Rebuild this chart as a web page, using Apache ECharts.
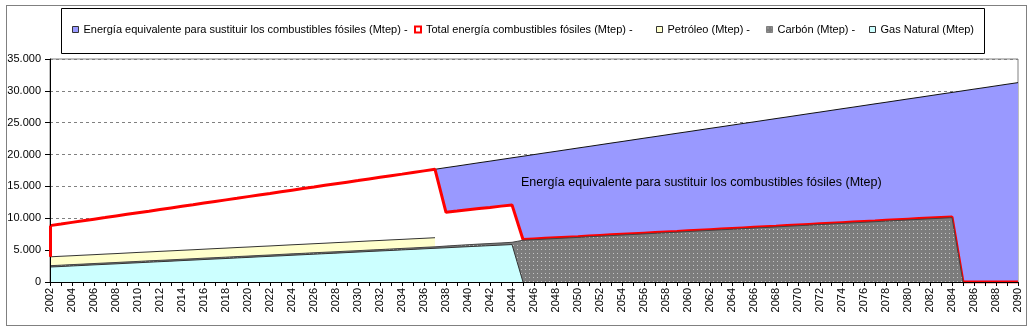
<!DOCTYPE html>
<html><head><meta charset="utf-8">
<script src="https://cdn.jsdelivr.net/npm/echarts@6/dist/echarts.min.js"></script>
<style>html,body{margin:0;padding:0;background:#fff}#c{width:1033px;height:332px}</style>
</head><body><div id="c"></div>
<script>
const years = [
'2002','2003','2004','2005','2006','2007','2008','2009','2010','2011',
'2012','2013','2014','2015','2016','2017','2018','2019','2020','2021',
'2022','2023','2024','2025','2026','2027','2028','2029','2030','2031',
'2032','2033','2034','2035','2036','2037','2038','2039','2040','2041',
'2042','2043','2044','2045','2046','2047','2048','2049','2050','2051',
'2052','2053','2054','2055','2056','2057','2058','2059','2060','2061',
'2062','2063','2064','2065','2066','2067','2068','2069','2070','2071',
'2072','2073','2074','2075','2076','2077','2078','2079','2080','2081',
'2082','2083','2084','2085','2086','2087','2088','2089','2090'];

// Upper edge of each area (Mtep)
// Energía equivalente: 2037-2090
const energiaEquivalente = [
17690,17950,18200,18460,18720,18970,19230,19490,19740,20000,
20260,20510,20770,21030,21280,21540,21800,22050,22310,22570,
22820,23080,23340,23590,23850,24110,24360,24620,24880,25130,
25390,25650,25900,26160,26420,26670,26930,27190,27440,27700,
27960,28210,28470,28730,28980,29240,29500,29750,30010,30270,
30520,30780,31040,31290];
// Total energía combustibles fósiles: 2002-2090
const totalFosiles = [
8850,9100,9360,9610,9860,10110,10370,10620,10870,11120,
11380,11630,11880,12130,12390,12640,12890,13140,13400,13650,
13900,14160,14410,14660,14910,15170,15420,15670,15920,16180,
16430,16680,16930,17190,17440,17690,
10940,11130,11330,11520,11710,11910,12100,
6670,6760,6850,6940,7030,7120,7220,7310,7400,7490,
7580,7670,7760,7850,7940,8040,8130,8220,8310,8400,
8490,8580,8670,8760,8860,8950,9040,9130,9220,9310,
9400,9490,9580,9680,9770,9860,9950,10040,10130,10220,
0,0,0,0,0,0];
// Petróleo: 2002-2037
const petroleo = [
3950,4040,4120,4210,4290,4380,4460,4550,4640,4720,
4810,4890,4980,5060,5150,5240,5320,5410,5490,5580,
5660,5750,5840,5920,6010,6090,6180,6260,6350,6440,
6520,6610,6690,6780,6860,6950];
// Carbón: 2002-2085
const carbon = [
2560,2640,2730,2810,2900,2980,3060,3150,3230,3320,
3400,3480,3570,3650,3740,3820,3900,3990,4070,4160,
4240,4330,4420,4500,4590,4670,4750,4840,4920,5010,
5090,5180,5270,5350,5440,5520,5640,5750,5850,5950,
6040,6130,6230,
6550,6640,6730,6820,6910,7000,7100,7190,7280,7370,
7460,7550,7640,7730,7820,7920,8010,8100,8190,8280,
8370,8460,8550,8640,8740,8830,8920,9010,9100,9190,
9280,9370,9460,9560,9650,9740,9830,9920,10010,10100,
0];
// Gas Natural: 2002-2045
const gasNatural = [
2350,2430,2520,2600,2690,2770,2850,2940,3020,3110,
3190,3270,3360,3440,3530,3610,3690,3780,3860,3950,
4030,4110,4200,4280,4370,4450,4530,4620,4700,4790,
4870,4950,5040,5120,5210,5290,5370,5460,5540,5630,
5710,5790,5880,
0];

const seriesNames = [
 'Energía equivalente para sustituir los combustibles fósiles (Mtep) -',
 'Total energía combustibles fósiles (Mtep) -',
 'Petróleo (Mtep) -',
 'Carbón (Mtep) -',
 'Gas Natural (Mtep)'];
const annotation = 'Energía equivalente para sustituir los combustibles fósiles (Mtep)';

const FONT = 'Arial, "Liberation Sans", sans-serif';

function pairs(arr, startYear){
  const s = years.indexOf(startYear);
  return arr.map((v,i)=>[years[s+i], v]);
}

const pc = document.createElement('canvas'); pc.width = 4; pc.height = 4;
const g = pc.getContext('2d');
g.fillStyle = '#7c7c7c'; g.fillRect(0,0,4,4);
g.fillStyle = '#c4c4c4'; g.fillRect(1,1,1,1);
const carbonPattern = {image: pc, repeat: 'repeat'};

function area(name, data, fill, lineColor, lineWidth, z, extra){
  return Object.assign({
    name, type:'line', data, showSymbol:false, symbol:'none', z:z,
    lineStyle:{color:lineColor, width:lineWidth},
    areaStyle:{color:fill, opacity:1},
    itemStyle:{color:fill},
    emphasis:{disabled:true}, silent:true
  }, extra||{});
}

const legendDefs = [
 {x:72, name:seriesNames[0], style:{color:'#9999FF', borderColor:'#333', borderWidth:1}},
 {x:414, name:seriesNames[1], style:{color:'#FFFFFF', borderColor:'#FF0000', borderWidth:2}},
 {x:656, name:seriesNames[2], style:{color:'#FFFFCC', borderColor:'#333', borderWidth:1}},
 {x:766, name:seriesNames[3], style:{color:carbonPattern, borderColor:'#808080', borderWidth:1}},
 {x:869, name:seriesNames[4], style:{color:'#CCFFFF', borderColor:'#333', borderWidth:1}}
];

const chart = echarts.init(document.getElementById('c'));
chart.setOption({
  animation:false,
  backgroundColor:'#fff',
  textStyle:{fontFamily:FONT},
  grid:{left:50, right:15, top:59, bottom:50, show:true, z:0, borderColor:'#808080', borderWidth:1, backgroundColor:'transparent'},
  legend: legendDefs.map(d=>({
    left:d.x, top:24, padding:0, itemWidth:6, itemHeight:6, icon:'rect',
    selectedMode:false, textStyle:{fontFamily:FONT, fontSize:11, color:'#000'},
    data:[{name:d.name, itemStyle:d.style}]
  })),
  xAxis:{
    type:'category', data:years, boundaryGap:false, z:20,
    axisLine:{lineStyle:{color:'#000', width:1}},
    axisTick:{interval:0, length:4, lineStyle:{color:'#000'}},
    axisLabel:{interval:1, rotate:90, fontSize:11, color:'#000', margin:6, fontFamily:FONT},
    splitLine:{show:false}
  },
  yAxis:[{
    type:'value', min:0, max:35000, interval:5000, z:0,
    axisLine:{show:false},
    axisTick:{show:false},
    axisLabel:{show:false},
    splitLine:{show:true, lineStyle:{color:'#808080', type:[3,3], width:1}}
  },{
    type:'value', min:0, max:35000, interval:5000, z:20, position:'left',
    axisLine:{show:true, lineStyle:{color:'#000', width:1}},
    axisTick:{show:true, length:5, lineStyle:{color:'#000'}},
    axisLabel:{fontSize:11, color:'#000', margin:9, fontFamily:FONT,
      formatter:v=>String(v).replace(/\B(?=(\d{3})+(?!\d))/g,'.')},
    splitLine:{show:false}
  }],
  series:[
    area(seriesNames[0], pairs(energiaEquivalente,'2037'), '#9999FF', '#111', 1, 3),
    area(seriesNames[1], pairs(totalFosiles,'2002'), '#FFFFFF', '#FF0000', 3, 4, {
      markLine:{silent:true, z:30, symbol:['none','none'], label:{show:false}, animation:false,
        lineStyle:{color:'#FF0000', width:3, type:'solid'},
        emphasis:{disabled:true},
        data:[[{coord:[years[0], petroleo[0]]},{coord:[years[0], totalFosiles[0]]}]]}
    }),
    area(seriesNames[2], pairs(petroleo,'2002'), '#FFFFCC', '#333', 1, 5),
    area(seriesNames[3], pairs(carbon,'2002'), carbonPattern, '#444', 1, 6, {itemStyle:{color:'#808080'}}),
    area(seriesNames[4], pairs(gasNatural,'2002'), '#CCFFFF', '#333', 1, 7)
  ],
  graphic:[
    {type:'rect', silent:true, z:-10, shape:{x:6.5, y:5.5, width:1020, height:320},
      style:{fill:null, stroke:'#000', lineWidth:1, lineDash:[1,1]}},
    {type:'rect', silent:true, z:-10, shape:{x:61.5, y:8.5, width:923, height:45},
      style:{fill:'#fff', stroke:'#000', lineWidth:1}},
    {type:'text', silent:true, z:100, left:521, top:176,
      style:{text:annotation, font:'12.5px Arial, "Liberation Sans", sans-serif', fill:'#000'}}
  ]
});
</script></body></html>
